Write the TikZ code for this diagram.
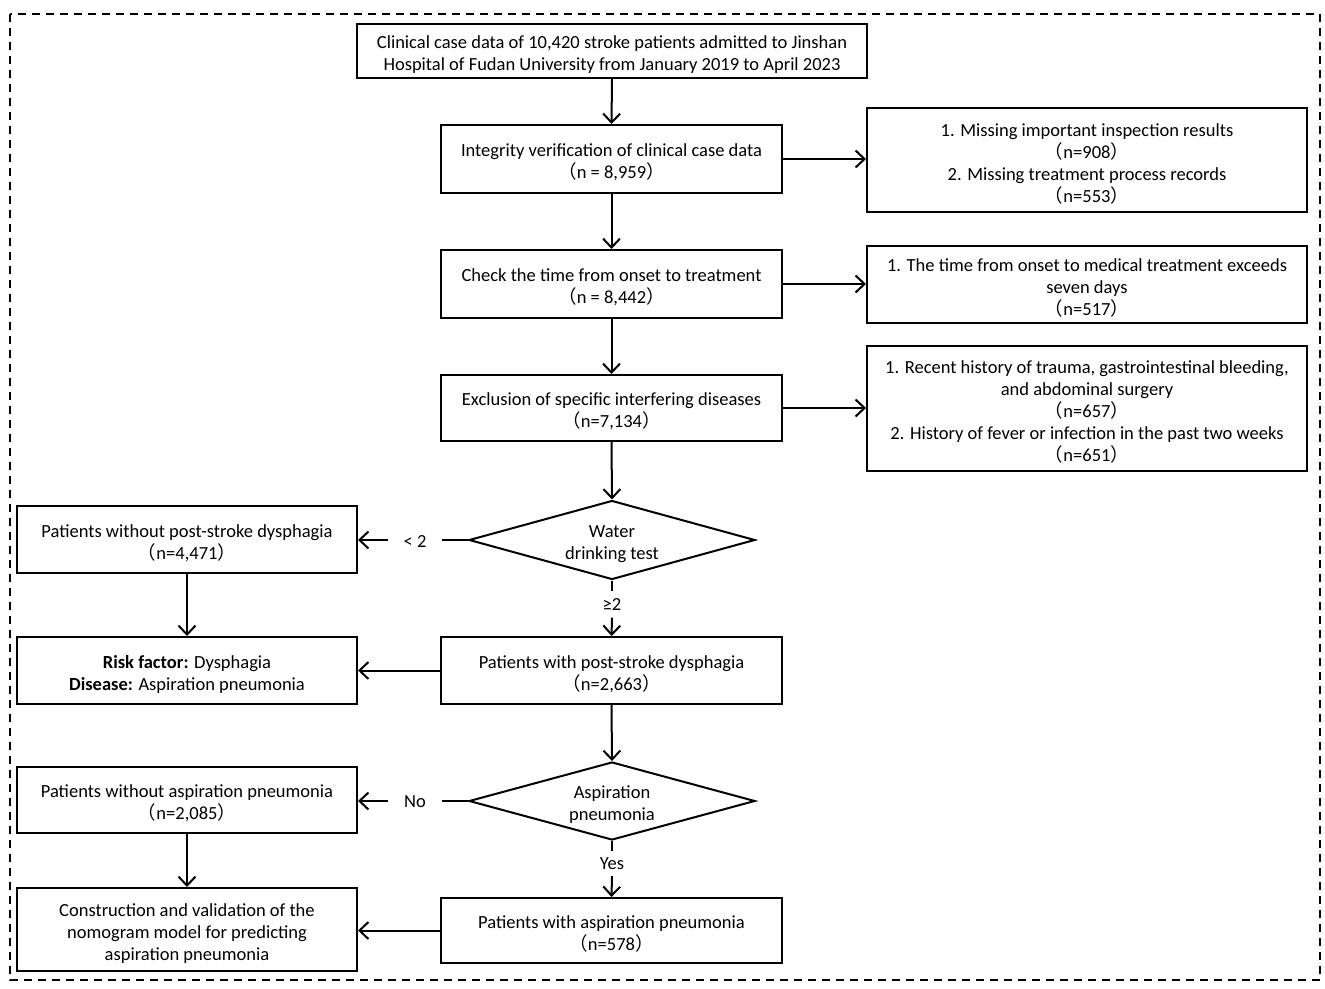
\documentclass[tikz,border=0pt]{standalone}
\usepackage{fontspec}
\setmainfont{Carlito}
\newfontfamily\cjkf{Noto Sans CJK SC}
\newcommand\LP{{\cjkf （}}
\newcommand\RP{{\cjkf ）}}
\newcommand\tp{\rule{0pt}{20pt}}
\usetikzlibrary{arrows.meta,shapes.geometric}
\tikzset{
  box/.style={draw, line width=2pt, align=center, inner sep=0pt, font=\fontsize{18.5}{22}\selectfont},
  dia/.style={draw, line width=2pt, shape=diamond, aspect=3.6, inner sep=0pt, align=center, font=\fontsize{18.5}{22}\selectfont},
  lab/.style={inner sep=0pt, font=\fontsize{18.5}{22}\selectfont},
  arr/.style={line width=2pt, -{Straight Barb[length=9pt,width=17pt,line width=2pt]}},
  ln/.style={line width=2pt},
}
\begin{document}
\begin{tikzpicture}[x=1pt,y=-1pt]
\useasboundingbox (0,0) rectangle (1325,988);
\draw[line width=2pt, dash pattern=on 8pt off 6pt] (10,14) rectangle (1320,980);

\node[box, minimum width=510, minimum height=54] (top) at (612,51) {\tp Clinical case data of 10,420 stroke patients admitted to Jinshan\\Hospital of Fudan University from January 2019 to April 2023};
\node[box, minimum width=341, minimum height=68] (b2) at (611.5,159) {\tp Integrity verification of clinical case data\\\LP n = 8,959\RP};
\node[box, minimum width=440, minimum height=104] (r1) at (1087,160) {\tp 1. Missing important inspection results\\\LP n=908\RP\\2. Missing treatment process records\\\LP n=553\RP};
\node[box, minimum width=341, minimum height=68] (b3) at (611.5,284) {\tp Check the time from onset to treatment\\\LP n = 8,442\RP};
\node[box, minimum width=440, minimum height=77] (r2) at (1087,284.5) {\tp 1. The time from onset to medical treatment exceeds\\seven days\\\LP n=517\RP};
\node[box, minimum width=341, minimum height=66] (b4) at (611.5,408) {\tp Exclusion of specific interfering diseases\\\LP n=7,134\RP};
\node[box, minimum width=440, minimum height=125] (r3) at (1087,408.5) {\tp 1. Recent history of trauma, gastrointestinal bleeding,\\and abdominal surgery\\\LP n=657\RP\\2. History of fever or infection in the past two weeks\\\LP n=651\RP};
\node[dia, minimum width=286, minimum height=79] (d1) at (612,540) {\tp Water\\drinking test};
\node[box, minimum width=340, minimum height=67] (l1) at (187,539.5) {\tp Patients without post-stroke dysphagia\\\LP n=4,471\RP};
\node[box, minimum width=341, minimum height=67] (b5) at (611.5,670.5) {\tp Patients with post-stroke dysphagia\\\LP n=2,663\RP};
\node[box, minimum width=340, minimum height=67] (l2) at (187,670.5) {\tp\textbf{Risk factor:} Dysphagia\\\textbf{Disease:} Aspiration pneumonia};
\node[dia, minimum width=286, minimum height=78] (d2) at (612,801) {\tp Aspiration\\pneumonia};
\node[box, minimum width=340, minimum height=66] (l3) at (187,800) {\tp Patients without aspiration pneumonia\\\LP n=2,085\RP};
\node[box, minimum width=340, minimum height=83] (l4) at (187,929.5) {\tp Construction and validation of the\\nomogram model for predicting\\aspiration pneumonia};
\node[box, minimum width=341, minimum height=65] (b6) at (611.5,930.5) {\tp Patients with aspiration pneumonia\\\LP n=578\RP};

\node[lab, minimum width=54, minimum height=20] (t1) at (415,541) {< 2};
\node[lab, minimum width=30, minimum height=26] (t2) at (612,604.5) {≥2};
\node[lab, minimum width=54, minimum height=20] (t3) at (415,802) {No};
\node[lab, minimum width=30, minimum height=25] (t4) at (612,863.5) {Yes};

\draw[arr] (top.south) -- (b2.north);
\draw[arr] (b2.south) -- (b3.north);
\draw[arr] (b3.south) -- (b4.north);
\draw[arr] (b4.south) -- (d1.north);
\draw[arr] (b2.east) -- (b2.east -| r1.west);
\draw[arr] (b3.east) -- (b3.east -| r2.west);
\draw[arr] (b4.east) -- (b4.east -| r3.west);
\draw[ln] (d1.west) -- (d1.west -| t1.east);
\draw[arr] (d1.west -| t1.west) -- (d1.west -| l1.east);
\draw[ln] (d1.south) -- (t2.north);
\draw[arr] (t2.south) -- (b5.north);
\draw[arr] (l1.south) -- (l2.north);
\draw[arr] (b5.west) -- (l2.east);
\draw[arr] (b5.south) -- (d2.north);
\draw[ln] (d2.west) -- (d2.west -| t3.east);
\draw[arr] (d2.west -| t3.west) -- (d2.west -| l3.east);
\draw[ln] (d2.south) -- (t4.north);
\draw[arr] (t4.south) -- (b6.north);
\draw[arr] (l3.south) -- (l4.north);
\draw[arr] (b6.west) -- (b6.west -| l4.east);
\end{tikzpicture}
\end{document}
